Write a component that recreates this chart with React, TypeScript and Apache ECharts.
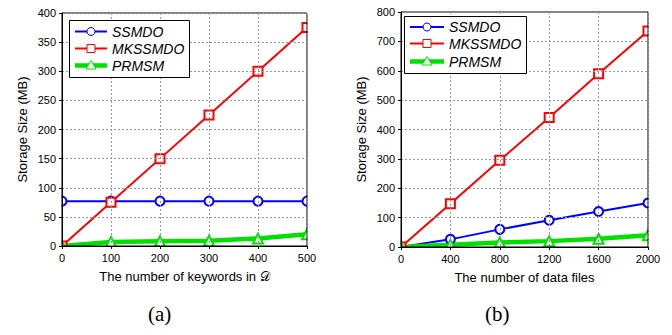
import React, { useEffect, useRef } from "react";
import * as echarts from "echarts";

const seriesNames = ["SSMDO", "MKSSMDO", "PRMSM"];
const xA = [0, 100, 200, 300, 400, 500];
const ssmdoA = [77, 77, 77, 77, 77, 77];
const mkssmdoA = [0, 75, 150, 225, 300, 375];
const prmsmA = [0, 7, 8, 9, 13, 20];

const xB = [0, 400, 800, 1200, 1600, 2000];
const ssmdoB = [0, 26, 60, 91, 121, 150];
const mkssmdoB = [0, 147, 295, 441, 590, 735];
const prmsmB = [0, 8, 15, 20, 28, 40];

const xNameA = "The number of keywords in 𝒟";
const xNameB = "The number of data files";
const yName = "Storage Size (MB)";
const captions = ["(a)", "(b)"];

const colors = ["#0000ff", "#ff0000", "#00e000"];
const symbols = ["emptyCircle", "emptyRect", "emptyTriangle"];
const widths = [2, 2, 4.5];
const sizes = [9, 9, 10];

const FONT = "Liberation Sans";

function pairs(xs: number[], ys: number[]) {
  return xs.map((x, i) => [x, ys[i]]);
}

function legendBox(bx: number, by: number, bw: number, bh: number, lineW: number, rows: number[]) {
  const els: any[] = [];
  els.push({ type: "rect", z: 70, silent: true, shape: { x: bx + 0.5, y: by + 0.5, width: bw, height: bh }, style: { fill: "#fff", stroke: "#000", lineWidth: 1 } });
  const lx0 = bx + 6;
  const lx1 = lx0 + lineW;
  const mx = (lx0 + lx1) / 2;
  seriesNames.forEach((name, i) => {
    const cy = by + rows[i];
    els.push({ type: "line", z: 71, silent: true, shape: { x1: lx0, y1: cy, x2: lx1, y2: cy }, style: { stroke: colors[i], lineWidth: widths[i] } });
    const ms = { fill: "#fff", stroke: colors[i], lineWidth: 1 };
    if (i === 0) {
      els.push({ type: "circle", z: 72, silent: true, shape: { cx: mx, cy, r: 4 }, style: ms });
    } else if (i === 1) {
      els.push({ type: "rect", z: 72, silent: true, shape: { x: mx - 4, y: cy - 4, width: 8, height: 8 }, style: ms });
    } else {
      els.push({ type: "polygon", z: 72, silent: true, shape: { points: [[mx, cy - 5], [mx - 5, cy + 3.5], [mx + 5, cy + 3.5]] }, style: ms });
    }
    els.push({ type: "text", z: 72, silent: true, x: lx1 + 5, y: cy, style: { text: name, fontSize: 14, fontStyle: "italic", fontFamily: FONT, fill: "#000", verticalAlign: "middle", align: "left" } });
  });
  return els;
}

export default function App() {
  const ref = useRef<HTMLDivElement>(null);
  useEffect(() => {
    if (!ref.current) return;
    const chart = echarts.init(ref.current, null, { renderer: "svg" });
    const axisCommon = {
      z: 60,
      axisLine: { show: true, lineStyle: { color: "#000", width: 1 } },
      axisTick: { show: true, inside: false, length: 3, lineStyle: { color: "#000" } },
      axisLabel: { color: "#000", fontSize: 11, fontFamily: FONT, margin: 6, formatter: (v: number) => String(v) },
      splitLine: { show: true, lineStyle: { color: "#999", type: [2, 2], width: 1 } },
      nameTextStyle: { color: "#000", fontSize: 13, fontFamily: FONT },
      nameLocation: "middle",
    };
    const dataA = [ssmdoA, mkssmdoA, prmsmA];
    const dataB = [ssmdoB, mkssmdoB, prmsmB];
    const mk = (idx: number, xs: number[], ys: number[], i: number) => ({
      type: "line",
      name: seriesNames[i],
      xAxisIndex: idx,
      yAxisIndex: idx,
      data: pairs(xs, ys),
      symbol: symbols[i],
      symbolSize: sizes[i],
      showAllSymbol: true,
      z: 2,
      lineStyle: { color: colors[i], width: widths[i] },
      itemStyle: { color: colors[i], borderColor: colors[i], borderWidth: 1 },
      clip: true,
    });
    const grids = [
      { l: 62, t: 13, w: 245, h: 233 },
      { l: 401, t: 12, w: 247, h: 235 },
    ];
    const masks: any[] = [];
    grids.forEach((g) => {
      const m = 7;
      const st = { fill: "#ffffff" };
      masks.push({ type: "rect", z: 50, silent: true, shape: { x: g.l - m, y: g.t - m, width: m - 0.5, height: g.h + 2 * m }, style: st });
      masks.push({ type: "rect", z: 50, silent: true, shape: { x: g.l + g.w + 0.5, y: g.t - m, width: m, height: g.h + 2 * m }, style: st });
      masks.push({ type: "rect", z: 50, silent: true, shape: { x: g.l - m, y: g.t - m, width: g.w + 2 * m, height: m - 0.5 }, style: st });
      masks.push({ type: "rect", z: 50, silent: true, shape: { x: g.l - m, y: g.t + g.h + 0.5, width: g.w + 2 * m, height: m }, style: st });
    });
    chart.setOption({
      animation: false,
      grid: [
        { left: 62, top: 13, width: 245, height: 233, show: true, z: 60, borderColor: "#000", borderWidth: 1, backgroundColor: "transparent" },
        { left: 401, top: 12, width: 247, height: 235, show: true, z: 60, borderColor: "#000", borderWidth: 1, backgroundColor: "transparent" },
      ],
      xAxis: [
        { ...axisCommon, type: "value", gridIndex: 0, min: 0, max: 500, interval: 100, name: xNameA, nameGap: 24 },
        { ...axisCommon, type: "value", gridIndex: 1, min: 0, max: 2000, interval: 400, name: xNameB, nameGap: 24 },
      ],
      yAxis: [
        { ...axisCommon, type: "value", gridIndex: 0, min: 0, max: 400, interval: 50, name: yName, nameGap: 33, nameRotate: 90 },
        { ...axisCommon, type: "value", gridIndex: 1, min: 0, max: 800, interval: 100, name: yName, nameGap: 33, nameRotate: 90 },
      ],
      series: [
        ...dataA.map((d, i) => mk(0, xA, d, i)),
        ...dataB.map((d, i) => mk(1, xB, d, i)),
      ],
      graphic: {
        elements: [
          ...masks,
          ...legendBox(69, 20, 120, 57, 32, [11.5, 28.5, 45.5]),
          ...legendBox(404, 16, 122, 57, 34, [11, 27.5, 45.5]),
          { type: "text", left: 148, top: 303, style: { text: captions[0], fontSize: 21, fontFamily: "Liberation Serif", fill: "#000" } },
          { type: "text", left: 485, top: 303, style: { text: captions[1], fontSize: 21, fontFamily: "Liberation Serif", fill: "#000" } },
        ],
      },
    });
    return () => chart.dispose();
  }, []);
  return (
    <div
      ref={ref}
      style={{ position: "absolute", left: 0, top: 0, width: 672, height: 335, background: "#fff" }}
    />
  );
}
